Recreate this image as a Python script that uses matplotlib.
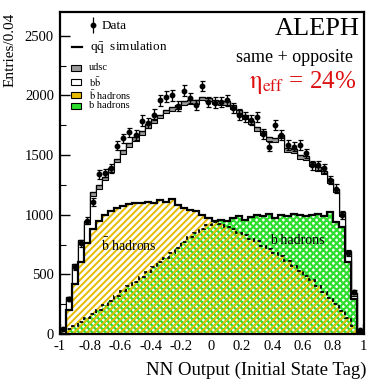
import numpy as np
import matplotlib
matplotlib.use("Agg")
import matplotlib.pyplot as plt
from matplotlib.patches import Rectangle
from matplotlib.ticker import MultipleLocator

plt.rcParams['font.family'] = ['Liberation Serif', 'DejaVu Serif']
plt.rcParams['mathtext.fontset'] = 'stix'

# ==========================================
# data (50 bins, width 0.04)
# ==========================================
edges = np.linspace(-1.0, 1.0, 51)

mc_total = [50, 310, 590, 790, 950, 1190, 1250, 1320, 1390, 1470,
            1540, 1600, 1650, 1700, 1760, 1800, 1840, 1880, 1900, 1920,
            1950, 1960, 1960, 1990, 1980, 1960, 1950, 1950, 1920, 1880,
            1835, 1790, 1735, 1700, 1650, 1640, 1670, 1560, 1550, 1500,
            1490, 1440, 1400, 1370, 1300, 1220, 1020, 700, 340, 30]

udsc = [10, 20, 25, 25, 30, 30, 30, 30, 30, 30,
        30, 30, 30, 30, 30, 30, 30, 30, 30, 30,
        30, 30, 30, 30, 30, 30, 30, 30, 30, 30,
        30, 30, 30, 30, 30, 30, 30, 30, 30, 30,
        30, 30, 30, 30, 30, 30, 30, 25, 20, 10]

bbar_had = [30, 200, 420, 600, 760, 880, 950, 1000, 1030, 1060,
            1070, 1090, 1100, 1100, 1110, 1100, 1120, 1110, 1130, 1080,
            1060, 1040, 1030, 1000, 970, 950, 920, 900, 880, 850,
            830, 800, 780, 740, 710, 680, 650, 610, 570, 530,
            490, 450, 400, 350, 300, 250, 190, 130, 70, 15]

b_had = [10, 40, 70, 100, 130, 170, 200, 240, 280, 320,
         360, 400, 440, 480, 520, 560, 600, 640, 680, 720,
         770, 810, 850, 880, 910, 940, 960, 950, 970, 990,
         960, 980, 1000, 990, 1010, 970, 1000, 990, 1010, 1000,
         990, 1000, 1010, 990, 1020, 940, 900, 600, 290, 10]

data = [40, 290, 560, 760, 950, 1110, 1340, 1350, 1390, 1580,
        1640, 1690, 1670, 1790, 1770, 1840, 1960, 1990, 2000, 1910,
        2040, 1980, 1920, 2080, 1945, 1940, 1945, 1960, 1895, 1840,
        1820, 1795, 1820, 1680, 1570, 1750, 1670, 1585, 1570, 1585,
        1515, 1415, 1415, 1390, 1290, 1220, 1000, 680, 350, 30]

YELLOW = '#e6bc00'
GREEN = '#2ede2e'

mc_total = np.array(mc_total, float)
bb = mc_total - np.array(udsc, float)
bbar_had = np.array(bbar_had, float)
b_had = np.array(b_had, float)
data = np.array(data, float)
centers = 0.5 * (edges[1:] + edges[:-1])

fig = plt.figure(figsize=(3.74, 3.82), dpi=100)
ax = fig.add_axes([59.5 / 374, 1 - 334 / 382, 304 / 374, 322 / 382])

# MC stack: gray udsc band on top of white bb
ax.stairs(mc_total, edges, fill=True, facecolor='#9a9a9a', edgecolor='black', lw=1.0, zorder=1)
ax.stairs(bb, edges, fill=True, facecolor='white', edgecolor='none', lw=0, zorder=2)
ax.stairs(bb, edges, fill=False, color='black', lw=0.8, zorder=2.1)

# b / bbar hadrons, hatched and overlaid
with plt.rc_context({'hatch.linewidth': 1.6}):
    ax.stairs(b_had, edges, fill=True, hatch='xxxxx', facecolor='none',
              edgecolor=GREEN, lw=0, zorder=3)
with plt.rc_context({'hatch.linewidth': 1.4}):
    ax.stairs(bbar_had, edges, fill=True, hatch='/////', facecolor='none',
              edgecolor=YELLOW, lw=0, zorder=4)

upper = np.maximum(b_had, bbar_had)
lower = np.minimum(b_had, bbar_had)
ax.stairs(upper, edges, fill=False, color='black', lw=1.6, zorder=5)
ax.stairs(lower, edges, fill=False, color='black', lw=1.3, ls=(0, (2, 1.5)), zorder=5)

# data
ax.errorbar(centers, data, yerr=np.sqrt(data), fmt='o', ms=3.2, color='black',
            elinewidth=0.9, capsize=1.8, capthick=0.9, zorder=6)

ax.set_xlim(-1, 1)
ax.set_ylim(0, 2700)
ax.yaxis.set_major_locator(MultipleLocator(500))
ax.yaxis.set_minor_locator(MultipleLocator(250))
ax.set_xticks(np.arange(-1, 1.01, 0.2))
ax.set_xticklabels(['-1', '-0.8', '-0.6', '-0.4', '-0.2', '0', '0.2', '0.4', '0.6', '0.8', '1'])
ax.tick_params(axis='both', which='major', direction='in', length=7, width=1.0,
               labelsize=10.5, pad=4)
ax.tick_params(axis='y', which='minor', direction='in', length=4, width=0.8)
for s in ax.spines.values():
    s.set_linewidth(1.6)
    s.set_zorder(10)

# axis titles
fig.text(10 / 374, 1 - 50 / 382, 'Entries/0.04', rotation=90, ha='center', va='center', fontsize=11)
fig.text(367 / 374, 1 - 370 / 382, 'NN Output (Initial State Tag)', ha='right', va='center', fontsize=13.5)

# in-plot labels
ax.text(-0.73, 745, r'$\bar{\mathrm{b}}$ hadrons', fontsize=10, ha='left', va='center', zorder=7)
ax.text(0.385, 785, 'b hadrons', fontsize=10, ha='left', va='center', zorder=7)

# right-hand labels (pixel positions converted to axes fraction)
def px(x, y):
    return ((x - 59.5) / 304, (334 - y) / 322)

ax.text(*px(360, 29), 'ALEPH', transform=ax.transAxes, ha='right', va='center', fontsize=19, zorder=7)
ax.text(*px(353, 58), 'same + opposite', transform=ax.transAxes, ha='right', va='center', fontsize=13, zorder=7)
ax.text(*px(356, 82), r'$\mathrm{\eta}_{\mathrm{eff}}$ = 24%', transform=ax.transAxes, ha='right', va='center',
        fontsize=18, color='#dd1111', zorder=7)

# legend, drawn by hand
lx, ly = px(92.5, 25)
ax.errorbar([lx], [ly], yerr=[0.025], fmt='o', ms=3.2, color='black', elinewidth=0.9,
            capsize=0, transform=ax.transAxes, zorder=7, clip_on=False)
ax.text(*px(102, 26), 'Data', transform=ax.transAxes, ha='left', va='center', fontsize=9.5)
x0, y0 = px(72, 47)
x1, _ = px(82, 47)
ax.plot([x0, x1], [y0, y0], color='black', lw=1.6, transform=ax.transAxes, zorder=7)
ax.text(*px(90, 47), r'q$\bar{\mathrm{q}}$  simulation', transform=ax.transAxes, ha='left', va='center', fontsize=9.5)

boxes = [(68, '#9a9a9a', 'udsc'),
         (82, 'white', r'b$\bar{\mathrm{b}}$'),
         (95, YELLOW, r'$\bar{\mathrm{b}}$ hadrons'),
         (106, GREEN, 'b hadrons')]
for yy, col, lab in boxes:
    bx, by = px(71, yy + 3)
    ax.add_patch(Rectangle((bx, by), 10 / 304, 6 / 322, transform=ax.transAxes,
                           facecolor=col, edgecolor='black', lw=0.8, zorder=7))
    ax.text(*px(89, yy), lab, transform=ax.transAxes, ha='left', va='center', fontsize=7.5)

fig.savefig('out.png', dpi=100)
